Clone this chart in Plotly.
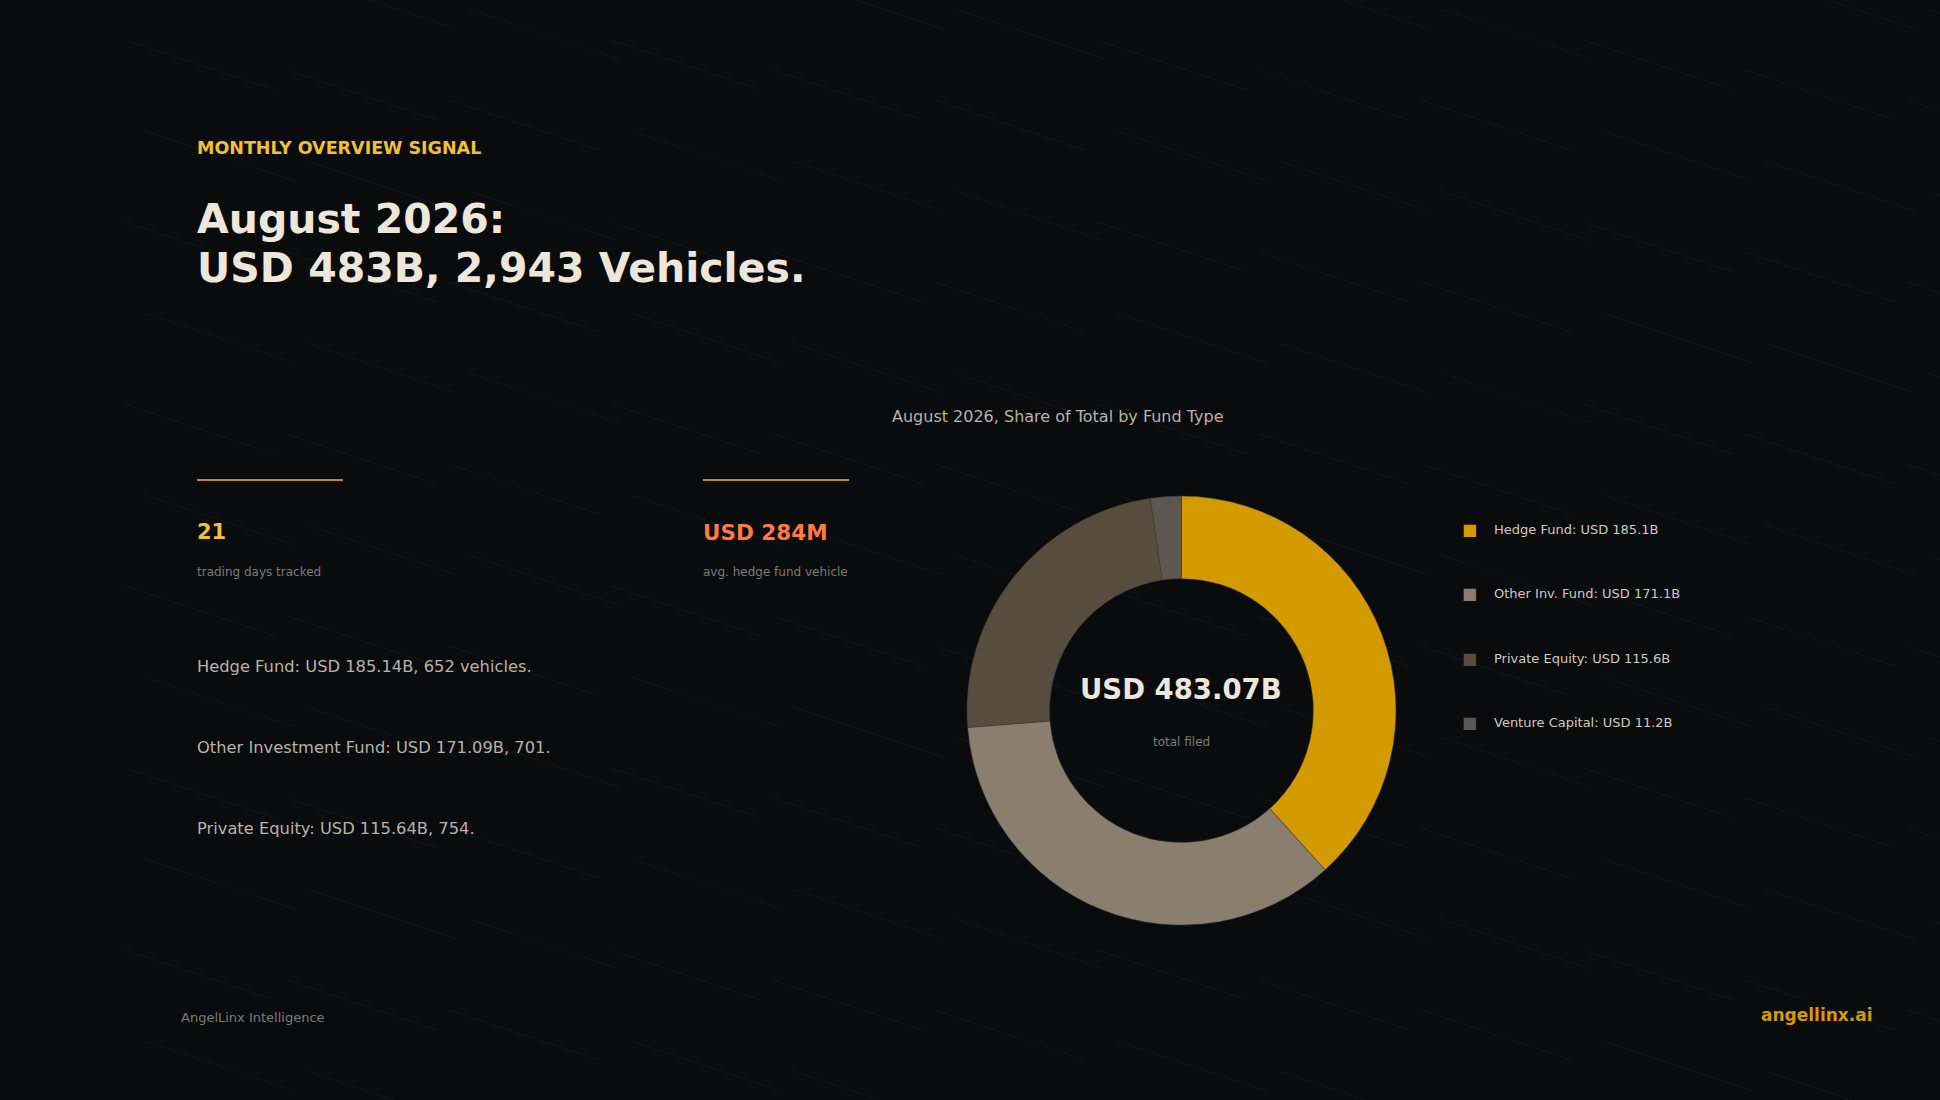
import plotly.graph_objects as go

fund_types = ["Hedge Fund", "Other Inv. Fund", "Private Equity", "Venture Capital"]
values_b = [185.1, 171.1, 115.6, 11.2]
colors = ["#D49B00", "#8A7F6E", "#574D3E", "#5E5650"]
detail_lines = ["Hedge Fund: USD 185.14B, 652 vehicles.",
                "Other Investment Fund: USD 171.09B, 701.",
                "Private Equity: USD 115.64B, 754."]
total_label = "USD 483.07B"

W, H = 1940, 1100
BG = "#0A0B0D"
fig = go.Figure()
fig.add_trace(go.Pie(labels=fund_types, values=values_b, hole=0.615, sort=False,
                     direction="clockwise", rotation=0,
                     marker=dict(colors=colors, line=dict(color="#3a3a3a", width=0.5)),
                     textinfo="none", hoverinfo="label+value", showlegend=False,
                     domain=dict(x=[0.498, 0.720], y=[0.159, 0.549])))

def px(x): return x / W
def py(y): return 1 - y / H

ann = []
def t(x, y, text, size, color, bold=False, xa="left", family="DejaVu Sans"):
    ann.append(dict(x=px(x), y=py(y), xref="paper", yref="paper", text=f"<b>{text}</b>" if bold else text,
                    showarrow=False, xanchor=xa, yanchor="middle",
                    font=dict(size=size, color=color, family=family)))

L = 195
t(L, 148, "MONTHLY OVERVIEW SIGNAL", 17.5, "#F2C12E", True)
t(L, 219, "August 2026:", 41, "#EDE6DA", True)
t(L, 268, "USD 483B, 2,943 Vehicles.", 41, "#EDE6DA", True)
t(1058, 416, "August 2026, Share of Total by Fund Type", 16, "#B8B2A8", xa="center")
t(L, 532, "21", 21, "#F2C12E", True)
t(L, 572, "trading days tracked", 12, "#7E7A74")
t(701, 532, "USD 284M", 21.5, "#FF7A3D", True)
t(701, 572, "avg. hedge fund vehicle", 12, "#7E7A74")
for i, s in enumerate(detail_lines):
    t(L, 666 + i * 81, s, 16.3, "#B8B2A8")
t(1181, 689, total_label, 27.5, "#EDE6DA", True, xa="center")
t(1181, 742, "total filed", 12, "#7E7A74", xa="center")
for i, (n, v, c) in enumerate(zip(fund_types, values_b, colors)):
    y = 529 + i * 64.5
    t(1460, y, "■", 16, c)
    t(1492, y, f"{n}: USD {v:.1f}B", 13, "#CFC9BF")
t(179, 1017, "AngelLinx Intelligence", 13, "#7E7A74")
t(1875, 1015, "angellinx.ai", 17, "#D49B00", True, xa="right")

shapes = []
for row in range(-1, 12):
    for col in range(12):
        x0 = 125 + col * 162 + (row % 2) * 20
        y0 = 40 + row * 91 + (col % 3) * 30
        shapes.append(dict(type="line", xref="paper", yref="paper", x0=px(x0), y0=py(y0),
                           x1=px(x0 + 150), y1=py(y0 + 50), line=dict(color="#121616", width=1), layer="below"))
shapes.append(dict(type="line", xref="paper", yref="paper", x0=px(197), x1=px(343), y0=py(480), y1=py(480),
                   line=dict(color="#B8900E", width=2)))
shapes.append(dict(type="line", xref="paper", yref="paper", x0=px(703), x1=px(849), y0=py(480), y1=py(480),
                   line=dict(color="#B8900E", width=2)))

fig.update_layout(width=W, height=H, margin=dict(l=0, r=0, t=0, b=0), paper_bgcolor=BG, plot_bgcolor=BG,
                  annotations=ann, shapes=shapes, showlegend=False)
fig.write_html("out.html", config={"displayModeBar": False},
               post_script="document.body.style.margin='0';document.body.style.background='#0A0B0D';document.body.style.overflow='hidden';")
